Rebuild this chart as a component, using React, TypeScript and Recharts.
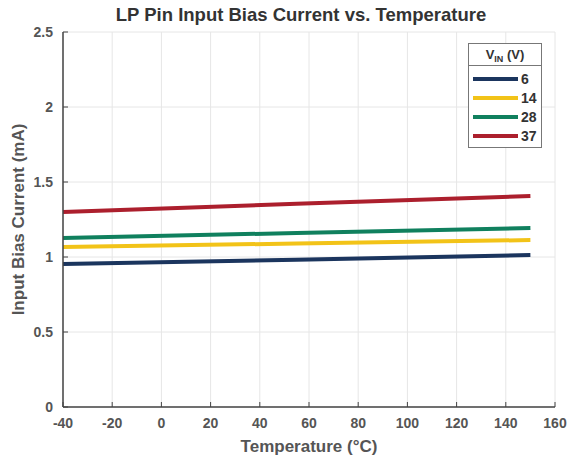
import { LineChart, Line, XAxis, YAxis, CartesianGrid } from 'recharts'

const temps = [-40, 55, 150]
const vin6 = [0.953, 0.982, 1.013]
const vin14 = [1.067, 1.09, 1.113]
const vin28 = [1.127, 1.16, 1.193]
const vin37 = [1.3, 1.355, 1.407]

const xTicks = [-40, -20, 0, 20, 40, 60, 80, 100, 120, 140, 160]
const yTicks = [0, 0.5, 1, 1.5, 2, 2.5]

const series = [
  { key: 'v6', name: '6', color: '#1b355e' },
  { key: 'v14', name: '14', color: '#f2c318' },
  { key: 'v28', name: '28', color: '#10805e' },
  { key: 'v37', name: '37', color: '#ac1f2d' },
]

const data = temps.map((t, i) => ({
  t,
  v6: vin6[i],
  v14: vin14[i],
  v28: vin28[i],
  v37: vin37[i],
}))

const FONT = 'Liberation Sans, Arial, sans-serif'
const TICK_COLOR = '#555'
const AXIS_COLOR = '#444'
const MARGIN = 10

function XTick(props: any) {
  const { x, y, payload } = props
  return (
    <g>
      <line x1={x} x2={x} y1={y - MARGIN} y2={y - MARGIN - 5} stroke={AXIS_COLOR} strokeWidth={1} />
      <text x={x} y={y} dy={11} textAnchor="middle" fill={TICK_COLOR} fontSize={14} fontWeight="bold" fontFamily={FONT}>
        {payload.value}
      </text>
    </g>
  )
}

function YTick(props: any) {
  const { x, y, payload } = props
  return (
    <g>
      <line x1={x + MARGIN} x2={x + MARGIN + 5} y1={y} y2={y} stroke={AXIS_COLOR} strokeWidth={1} />
      <text x={x} y={y} dy={5} textAnchor="end" fill={TICK_COLOR} fontSize={14} fontWeight="bold" fontFamily={FONT}>
        {payload.value}
      </text>
    </g>
  )
}

function LegendBox() {
  return (
    <div
      style={{
        position: 'absolute',
        left: 468,
        top: 43,
        border: '1px solid #777',
        background: '#fff',
        width: 72,
        fontFamily: FONT,
        fontWeight: 'bold',
        fontSize: 13,
        color: '#333',
      }}
    >
      <div style={{ textAlign: 'center', borderBottom: '1px solid #777', height: 21, lineHeight: '21px' }}>
        V<sub style={{ fontSize: 9, verticalAlign: 'baseline', position: 'relative', top: 3 }}>IN</sub> (V)
      </div>
      <div style={{ padding: '3px 0 2px 0' }}>
        {series.map((s) => (
          <div key={s.key} style={{ display: 'flex', alignItems: 'center', height: 19 }}>
            <div style={{ marginLeft: 4, width: 45, height: 4, background: s.color }} />
            <span style={{ marginLeft: 3, fontSize: 14 }}>{s.name}</span>
          </div>
        ))}
      </div>
    </div>
  )
}

export default function App() {
  return (
    <div style={{ position: 'absolute', left: 0, top: 0, width: 577, height: 456, background: '#fff' }}>
      <LineChart width={577} height={456} data={data} margin={{ top: 32, right: 22, left: 0, bottom: 0 }}>
        <CartesianGrid stroke="#e6e6e6" strokeWidth={1} horizontalValues={yTicks} verticalValues={xTicks} />
        <XAxis
          dataKey="t"
          type="number"
          domain={[-40, 160]}
          ticks={xTicks}
          height={49}
          tickSize={0}
          tickMargin={MARGIN}
          tick={<XTick />}
          axisLine={{ stroke: AXIS_COLOR, strokeWidth: 1.5 }}
          tickLine={false}
          label={{
            value: 'Temperature (°C)',
            position: 'insideBottom',
            offset: 4,
            fill: TICK_COLOR,
            fontSize: 17,
            fontWeight: 'bold',
            fontFamily: FONT,
          }}
        />
        <YAxis
          type="number"
          domain={[0, 2.5]}
          ticks={yTicks}
          width={63}
          tickSize={0}
          tickMargin={MARGIN}
          tick={<YTick />}
          axisLine={{ stroke: AXIS_COLOR, strokeWidth: 1.5 }}
          tickLine={false}
          label={{
            value: 'Input Bias Current (mA)',
            angle: -90,
            position: 'insideLeft',
            offset: 18,
            style: { textAnchor: 'middle' },
            fill: TICK_COLOR,
            fontSize: 17,
            fontWeight: 'bold',
            fontFamily: FONT,
          }}
        />
        {series.map((s) => (
          <Line
            key={s.key}
            type="linear"
            dataKey={s.key}
            name={s.name}
            stroke={s.color}
            strokeWidth={4}
            dot={false}
            activeDot={false}
            isAnimationActive={false}
          />
        ))}
      </LineChart>
      <div
        style={{
          position: 'absolute',
          top: 4,
          left: 0,
          width: 602,
          textAlign: 'center',
          fontFamily: FONT,
          fontWeight: 'bold',
          fontSize: 18.5,
          color: '#333',
        }}
      >
        LP Pin Input Bias Current vs. Temperature
      </div>
      <LegendBox />
    </div>
  )
}
